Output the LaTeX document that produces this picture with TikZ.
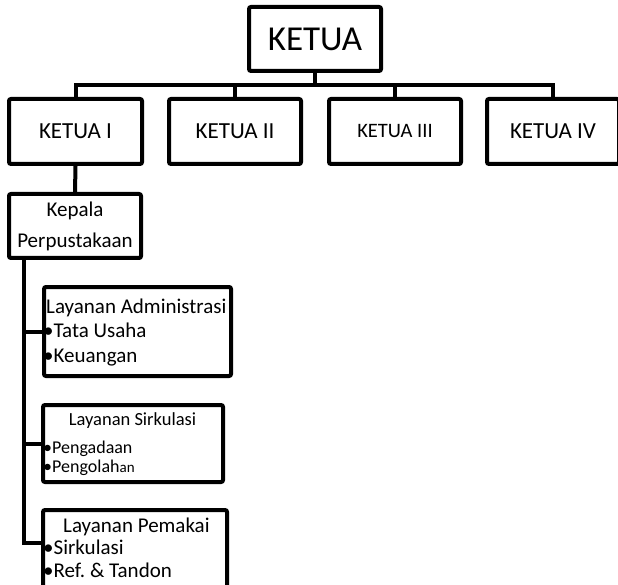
\documentclass[tikz,border=0pt]{standalone}
\usepackage{fontspec}
\setmainfont{Carlito}
\usetikzlibrary{positioning}

\begin{document}
\begin{tikzpicture}[
  x=1pt, y=-1pt,
  box/.style={draw, line width=4pt, rounded corners=2pt, inner sep=0pt,
              minimum width=#1, minimum height=65pt},
  box/.default=133pt,
  txt/.style={inner sep=0pt, align=left, anchor=base west},
  conn/.style={line width=4pt}
]
\useasboundingbox (0,0) rectangle (618,585);
% top level
\node[box, minimum width=132pt, minimum height=64pt,
      font=\fontsize{35}{40}\selectfont] (ketua) at (315,39) {KETUA};
\node[box, font=\fontsize{23}{26}\selectfont] (k1) at (75.5,131.5) {KETUA I};
\node[box, minimum width=132pt, font=\fontsize{23}{26}\selectfont] (k2) at (235,131.5) {KETUA II};
\node[box, minimum width=132pt, font=\fontsize{20.5}{24}\selectfont] (k3) at (395,131.5) {KETUA III};
\node[box, minimum width=132pt, font=\fontsize{23}{26}\selectfont] (k4) at (553,131.5) {KETUA IV};
\coordinate (bar) at (315,85);
\draw[conn] (ketua.south) -- (bar);
\draw[conn] (bar) -| (k1.north);
\draw[conn] (bar) -| (k2.north);
\draw[conn] (bar) -| (k3.north);
\draw[conn] (bar) -| (k4.north);
% kepala perpustakaan
\node[box, minimum width=132pt, minimum height=64pt] (kepala) at (75,226) {};
\node[txt, align=center, anchor=base, font=\fontsize{21}{32}\selectfont]
  (kepala-t) at (75,248) {Kepala\\Perpustakaan};
\draw[conn] (k1.south) -- (kepala.north);
% layanan
\node[box, minimum width=187pt, minimum height=89pt] (admin) at (137.5,331.5) {};
\node[txt, font=\fontsize{21}{24.5}\selectfont] (admin-t) at (43,362)
  {\hspace{3pt}Layanan Administrasi\\•Tata Usaha\\•Keuangan};
\node[box, minimum width=180pt, minimum height=77pt] (sirk) at (133,443.5) {};
\node[txt, anchor=base, font=\fontsize{18.5}{20}\selectfont] (sirk-h) at (132.5,425)
  {Layanan Sirkulasi};
\node[txt, font=\fontsize{18}{19}\selectfont] (sirk-t) at (43,472)
  {•Pengadaan\\•Pengolah{\fontsize{15}{15}\selectfont an}};
\node[box, minimum width=184pt, minimum height=92pt] (pemakai) at (135,556) {};
\node[txt, font=\fontsize{21}{22.5}\selectfont] (pemakai-t) at (43,577)
  {\hspace{20pt}Layanan Pemakai\\•Sirkulasi\\•Ref.\ \& Tandon};
% trunk
\coordinate (trunk) at (24,258);
\coordinate (pem-in) at (41,543);
\draw[conn] (trunk) |- (pem-in);
\draw[conn] (trunk) |- (admin.west);
\draw[conn] (trunk) |- (sirk.west);
\end{tikzpicture}
\end{document}
